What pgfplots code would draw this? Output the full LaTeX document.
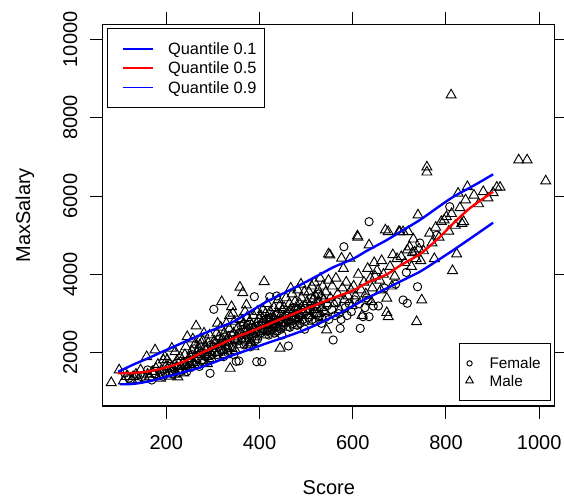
\documentclass[border=0pt]{standalone}
\usepackage{pgfplots}
\pgfplotsset{compat=1.18}
\usepackage{fontspec}
\setmainfont{Liberation Sans}
\pgfplotsset{
 rbase/.style={
  at={(0pt,0pt)}, anchor=south west, scale only axis,
  width=339.2pt, height=286.1pt,
  xmin=63.6, xmax=1033.7, ymin=640, ymax=10378,
  xtick={200,400,600,800,1000}, ytick={2000,4000,6000,8000,10000},
  tick align=outside, major tick length=9.5pt,
  tick style={black, line width=0.75pt},
  axis line style={black, line width=0.8pt},
  scaled ticks=false,
  /pgf/number format/1000 sep={},
  /pgf/number format/assume math mode=true,
  tick label style={font=\fontsize{15}{18}\selectfont},
  xticklabel style={anchor=base, yshift=-22.75pt},
  yticklabel style={xshift=-9.6pt, rotate=90, anchor=base},
  label style={font=\fontsize{15}{18}\selectfont},
  xlabel={Score}, ylabel={MaxSalary},
  xlabel style={at={([yshift=-61.5pt]axis description cs:0.5,0)}, anchor=center},
  ylabel style={at={([xshift=-58.3pt]axis description cs:0,0.5)}, anchor=center},
 },
}
\begin{document}
\begin{tikzpicture}
\useasboundingbox (-77.0pt,-70.5pt) rectangle (346.0pt,304.5pt);
\begin{axis}[rbase,
  legend cell align=left,
  legend image code/.code={\draw[#1] plot coordinates {(0pt,0pt)};},
  legend style={at={(axis description cs:1,0)}, anchor=south east,
    xshift=-3pt, yshift=3.75pt, draw=black, line width=0.75pt, fill=white,
    inner xsep=4.65pt, inner ysep=8.8pt, row sep=0.9pt, column sep=12.15pt,
    font=\fontsize{11.5}{13}\selectfont,
    nodes={anchor=west, inner sep=0pt, text height=10.1pt, text depth=2pt, text width=41pt, align=left}},
]
\addplot[only marks, mark=o, mark size=3.1pt, mark options={black, line width=0.7pt},
  legend image post style={mark size=2pt}] coordinates {
(111,1475)(147,1388)(120,1350)(138,1420)
(169,1304)(175,1450)(186,1500)(193,1400)(160,1560)(198,1480)
(204,1600)(211,1550)(217,1700)(222,1650)(227,1500)(231,1780)(235,1560)(239,1680)(244,1520)(249,1750)(214,1450)
(294,1475)(251,1800)(256,1950)(262,1700)(267,1850)(271,1650)(276,2000)(279,1760)(284,1900)(289,2100)(292,1800)(296,2200)(298,1950)(260,2100)
(302,3108)(304,2000)(307,2250)(309,1950)(312,2150)(314,2350)(318,2050)(321,2250)(323,1900)(325,2400)(328,2100)(330,2300)(332,2000)(334,2200)(339,2450)(342,2150)(345,1950)(347,2350)(350,1780)(356,1790)
(389,3430)(394,1771)(353,2300)(357,2500)(362,2350)(365,2600)(367,2200)(371,2450)(374,2700)(378,2350)(382,2550)(384,2400)(386,2650)(390,2300)(392,2500)(396,2350)(398,2700)(380,2150)(360,2700)
(405,1771)(422,3430)(437,3448)(402,2500)(406,2750)(408,2600)(414,2850)(416,2550)(418,2700)(420,2450)(424,2900)(426,2600)(430,2750)(432,2500)(434,2950)(436,2650)(438,2550)(442,2800)(446,2600)(448,2450)
(462,2172)(452,2700)(456,2950)(460,2800)(463,3050)(465,2650)(469,2900)(471,2750)(473,3150)(477,2850)(479,3000)(481,2700)(483,3100)(485,2900)(487,2750)(491,3000)(493,2850)(495,3200)(497,2600)(499,3050)
(505,2900)(509,3100)(513,2850)(517,3000)(521,2800)(525,3250)(529,2950)(533,2750)(537,3050)(541,2900)(545,3200)(549,2850)(511,3400)(527,3500)
(558,2325)(573,2623)(581,4706)(555,3100)(562,2950)(566,3300)(570,3000)(575,2850)(584,3150)(588,2950)(592,3250)(597,3050)
(616,2623)(635,5345)(633,3346)(644,3193)(622,2920)(635,2920)(604,3350)(614,3250)(626,3150)(630,3400)
(655,3193)(668,3650)(692,3750)
(708,3346)(717,3262)(739,3685)(715,4050)(744,4800)
(808,5728)(780,5000)
};
\addlegendentry{Female}
\addplot[only marks, mark=triangle, mark size=4.3pt, mark options={black, line width=0.7pt},
  legend image post style={mark size=3.3pt}] coordinates {
(82,1235)(99,1559)(126,1304)(129,1388)(115,1390)(140,1320)(145,1560)(108,1280)(135,1450)
(158,1898)(176,2070)(194,1814)(197,1898)(160,1450)(165,1380)(170,1520)(178,1600)(185,1420)(190,1560)(155,1340)(182,1700)(199,1650)(188,1350)
(212,2113)(219,2026)(245,2409)(205,1500)(208,1700)(215,1600)(220,1450)(223,1800)(228,1560)(230,1900)(233,1650)(236,1750)(238,1480)(240,1950)(243,1700)(246,1600)(248,1850)(225,1380)(202,1820)(210,1400)(242,2150)
(264,2682)(272,2325)(272,2197)(252,1900)(255,2050)(258,1750)(261,2200)(263,1850)(266,2000)(268,1700)(270,2100)(275,1950)(278,2300)(280,1800)(283,2150)(285,2050)(287,1900)(290,2250)(293,2450)(295,2000)(297,1850)(299,2150)(257,2350)(281,2500)(288,1720)(254,1650)
(319,3302)(340,3175)(343,3006)(337,1600)(303,2300)(306,2100)(308,2500)(311,2000)(313,2400)(315,2200)(317,2650)(320,2350)(322,2050)(324,2500)(327,2250)(329,2750)(331,2150)(333,2400)(335,2600)(338,2300)(341,2100)(344,2500)(346,2800)(348,2350)(349,2050)(310,2750)(326,1950)(336,2950)
(358,3670)(364,3532)(372,3218)(369,3048)(352,2400)(354,2650)(356,2200)(359,2850)(361,2500)(363,2300)(366,2750)(368,2550)(370,2350)(373,2900)(375,2600)(377,2450)(379,2800)(381,2250)(383,2700)(385,2500)(387,2950)(389,2600)(391,2400)(393,2750)(395,3050)(397,2550)(399,2850)(376,2200)(388,2150)
(410,3814)(444,2113)(401,2700)(403,2950)(405,2550)(407,3100)(409,2800)(411,2600)(413,3000)(415,2700)(417,3250)(419,2850)(421,2550)(423,3050)(425,2750)(427,2950)(429,2650)(431,3150)(433,2850)(435,2700)(437,3000)(439,2800)(441,2650)(443,3200)(445,2950)(447,2750)(449,3100)(412,2450)(428,2500)(440,3350)
(451,2900)(453,3150)(455,2750)(457,3400)(459,3000)(462,2850)(464,3250)(466,3100)(468,2800)(470,3500)(472,3050)(474,2900)(476,3300)(478,3150)(480,2850)(482,3600)(484,3000)(486,3250)(488,2950)(490,3400)(492,3100)(494,2800)(496,3550)(498,3200)(458,2650)(475,2700)(489,3750)(467,3650)
(544,2580)(548,4520)(502,3300)(504,3050)(506,3550)(508,3200)(510,2950)(512,3700)(514,3350)(516,3100)(518,3800)(520,3450)(522,3150)(524,3000)(526,3600)(528,3300)(530,3900)(532,3450)(534,3150)(536,3700)(538,3350)(540,3050)(542,3550)(546,3250)(548,3850)(515,2800)(535,2900)
(551,4495)(576,4410)(594,4410)(552,3400)(556,3700)(560,3250)(564,3900)(568,3500)(572,3100)(578,3650)(582,3350)(586,3800)(590,3450)(596,3600)(598,3200)(580,4150)
(610,4980)(611,4950)(635,4750)(602,3700)(606,3450)(612,4000)(618,3600)(624,3800)(628,3500)(632,4150)(638,3900)(642,3650)(646,4300)(648,3950)(620,2950)(640,3300)
(670,5133)(676,5090)(673,3390)(676,2920)(673,3023)(652,4100)(658,3850)(662,4350)(666,4000)(680,4200)(686,4500)(690,3950)(695,4400)(699,5090)(660,3600)(684,3700)
(701,5090)(708,5090)(719,5090)(740,5515)(717,4622)(733,4570)(748,3346)(737,2792)(704,4450)(712,4300)(722,4700)(726,4200)(730,4900)(736,4400)(742,4650)(746,4350)(728,4550)
(759,6740)(759,6610)(811,8579)(814,4094)(823,4520)(796,5388)(801,5472)(838,5345)(834,5300)(826,6070)(846,6238)(752,4600)(765,5050)(770,4800)(778,5200)(785,4950)(790,5350)(806,5100)(812,5550)(820,5250)(830,5700)(842,5900)(775,4400)
(860,6020)(880,6110)(901,6085)(909,6222)(916,6222)(956,6920)(974,6920)(1014,6383)(870,5800)(890,5950)
};
\addlegendentry{Male}
\end{axis}
\begin{axis}[rbase, hide axis,
  legend cell align=left,
  legend style={at={(axis description cs:0,1)}, anchor=north west,
    xshift=3.45pt, yshift=-2.85pt, draw=black, line width=0.75pt, fill=white,
    inner xsep=6.3pt, inner ysep=8.55pt, row sep=1.5pt, column sep=11pt,
    font=\fontsize{12.3}{14}\selectfont,
    nodes={anchor=west, inner sep=0pt, text height=10.9pt, text depth=2pt}},
]
\addplot[color=blue, line width=1.8pt, smooth,
  legend image code/.code={\path (-4pt,0pt); \draw[blue, line width=1.1pt] (0pt,0pt) -- (22.5pt,0pt);}] coordinates {
(100,1194)(130,1205)(165,1275)(201,1388)(236,1500)(272,1618)(308,1780)(344,1942)(380,2090)(415,2240)(451,2385)(487,2537)(523,2720)(558,2920)(594,3150)(630,3389)(666,3600)(701,3813)(744,4068)(780,4340)(816,4622)(860,4980)(901,5319)
};
\addlegendentry{Quantile 0.1}
\addplot[color=red, line width=1.8pt, smooth,
  legend image code/.code={\path (-4pt,0pt); \draw[red, line width=1.1pt] (0pt,0pt) -- (22.5pt,0pt);}] coordinates {
(97,1475)(130,1482)(165,1530)(200,1625)(236,1765)(272,1975)(308,2170)(344,2368)(380,2537)(415,2708)(451,2885)(487,3060)(523,3230)(558,3400)(601,3590)(630,3780)(673,4000)(701,4220)(744,4520)(780,4880)(816,5304)(851,5687)(901,6110)
};
\addlegendentry{Quantile 0.5}
\addplot[color=blue, line width=1.8pt, smooth,
  legend image code/.code={\path (-4pt,0pt); \draw[blue, line width=1.1pt] (0pt,0pt) -- (22.5pt,0pt);}] coordinates {
(97,1516)(130,1700)(165,1880)(200,2070)(236,2260)(272,2450)(308,2620)(344,2792)(380,3050)(415,3302)(451,3515)(487,3730)(523,3955)(558,4180)(601,4400)(630,4600)(673,4877)(708,5130)(744,5388)(780,5690)(816,5983)(860,6270)(901,6554)
};
\addlegendentry{Quantile 0.9}
\end{axis}
\end{tikzpicture}
\end{document}
